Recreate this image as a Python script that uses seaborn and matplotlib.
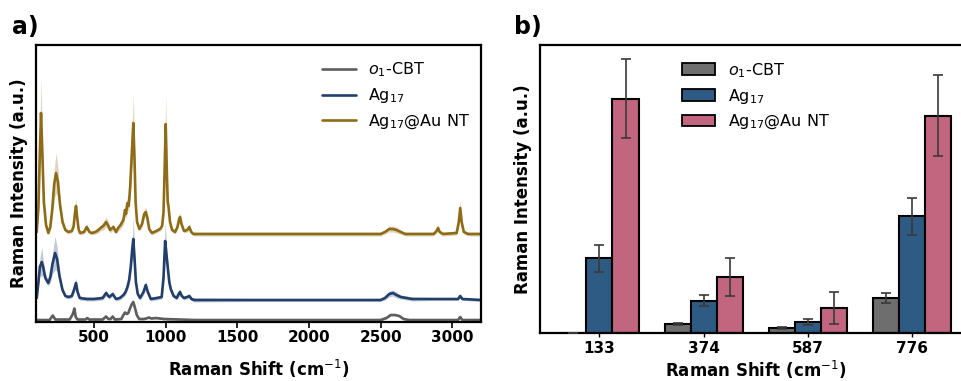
import numpy as np
import pandas as pd
import matplotlib
matplotlib.use("Agg")
import matplotlib.pyplot as plt
from matplotlib.patches import Patch
from matplotlib.lines import Line2D
import seaborn as sns

# ---------------- Panel a data ----------------
gold_x = [100, 112, 122, 130, 138, 150, 165, 181, 195, 210, 222, 235, 248, 262, 280, 300, 321,
          345, 358, 366, 374, 382, 392, 402, 430, 449, 468, 484, 510, 530, 545, 565, 584, 600,
          612, 635, 653, 668, 685, 705, 716, 723, 733, 742, 752, 764, 774, 782, 790, 800, 816,
          835, 850, 861, 872, 885, 903, 935, 960, 975, 985, 992, 1000, 1008, 1014, 1020, 1030,
          1045, 1065, 1082, 1092, 1100, 1110, 1128, 1150, 1165, 1178, 1193, 1400, 1800, 2200,
          2500, 2530, 2560, 2585, 2610, 2640, 2670, 2800, 2870, 2890, 2900, 2912, 2935, 3030,
          3045, 3055, 3065, 3080, 3110, 3200]
gold_y = [90, 115, 170, 209, 175, 120, 97, 89, 95, 115, 138, 149, 140, 118, 100, 92, 90,
          91, 96, 108, 116, 105, 93, 89, 90, 95, 90, 89, 90, 92, 94, 96, 100, 96,
          92, 95, 90, 94, 97, 102, 112, 108, 119, 116, 135, 170, 199, 165, 120, 100, 93,
          98, 108, 110, 104, 93, 89, 91, 93, 96, 110, 150, 198, 150, 120, 115, 100,
          92, 90, 95, 102, 105, 98, 91, 92, 95, 90, 88, 88, 88, 88,
          88, 90, 93, 93, 92, 90, 88, 88, 88, 91, 94, 90, 88, 89,
          100, 114, 100, 90, 88, 88]
gold_sd = [2, 8, 20, 36, 15, 6, 3, 2, 3, 8, 15, 20, 15, 8, 4, 2, 2,
           2, 3, 5, 8, 4, 2, 2, 2, 3, 2, 2, 2, 3, 3, 4, 5, 4,
           3, 3, 2, 3, 4, 5, 6, 5, 7, 6, 10, 15, 30, 12, 6, 3, 2,
           3, 4, 5, 4, 2, 2, 2, 2, 3, 6, 15, 30, 12, 8, 6, 4,
           2, 2, 3, 4, 4, 3, 2, 2, 3, 2, 2, 2, 2, 2,
           2, 2, 3, 3, 3, 2, 2, 2, 2, 2, 3, 2, 2, 2,
           4, 8, 4, 2, 2, 2]

blue_x = [100, 112, 122, 135, 145, 160, 181, 195, 210, 228, 242, 260, 280, 300, 321, 345, 360,
          374, 385, 400, 450, 500, 560, 584, 600, 607, 630, 653, 680, 705, 720, 733, 745, 756,
          766, 774, 782, 792, 805, 821, 845, 861, 875, 896, 940, 972, 985, 996, 1005, 1014,
          1025, 1035, 1055, 1077, 1090, 1100, 1112, 1128, 1150, 1165, 1180, 1200, 1600, 2000,
          2500, 2530, 2560, 2585, 2610, 2640, 2680, 2720, 2850, 3040, 3055, 3070, 3200]
blue_y = [24, 40, 55, 60, 55, 44, 39, 45, 58, 69, 63, 45, 32, 26, 25, 26, 32,
          39, 30, 24, 23, 23, 24, 29, 26, 25, 28, 23, 24, 27, 30, 35, 42, 55,
          72, 83, 65, 40, 28, 24, 30, 37, 30, 23, 24, 25, 45, 81, 68, 55,
          40, 33, 26, 24, 28, 30, 26, 24, 25, 26, 23, 22, 22, 22,
          22, 24, 28, 29, 27, 25, 24, 23, 23, 23, 26, 23, 22]
blue_sd = [2, 5, 8, 15, 8, 4, 3, 5, 10, 17, 12, 5, 3, 2, 2, 2, 3,
           5, 3, 2, 2, 2, 2, 3, 2, 2, 2, 2, 2, 2, 3, 3, 4, 6,
           10, 22, 8, 4, 2, 2, 3, 4, 3, 2, 2, 2, 8, 20, 10, 6,
           4, 3, 2, 2, 3, 3, 2, 2, 2, 2, 2, 2, 1.5, 1.5,
           1.5, 2, 3, 3, 3, 2, 2, 2, 1.5, 1.5, 2, 1.5, 1.5]

gray_x = [100, 190, 212, 230, 330, 352, 363, 372, 385, 440, 453, 466, 560, 584, 600, 615, 630,
          645, 690, 705, 716, 728, 739, 752, 764, 774, 784, 798, 815, 850, 884, 900, 930, 960,
          990, 1100, 1200, 2500, 2540, 2570, 2600, 2630, 2660, 2700, 3040, 3055, 3070, 3200]
gray_y = [2, 2, 6.5, 2.5, 2.5, 8, 13.5, 5, 2.5, 2.5, 4, 2.5, 2.5, 5.5, 3, 3, 5.5,
          2.5, 3, 7, 9.5, 8, 9, 14, 18, 20, 15, 7, 3, 3, 4.5, 3.5, 4, 3.5,
          3, 2.5, 2, 2, 4, 7, 7, 6, 3, 2, 2, 5, 2, 2]
gray_sd = [1] * len(gray_x)

# ---------------- Panel b data ----------------
peaks = ["133", "374", "587", "776"]
samples = ["$o_1$-CBT", "Ag$_{17}$", "Ag$_{17}$@Au NT"]
bar_gray = [0, 9, 5, 35]
bar_blue = [74.7, 32.3, 11.3, 116.7]
bar_pink = [234.3, 56, 25.3, 217.3]
err_gray = [0, 0.6, 0.6, 4.8]
err_blue = [13.8, 5.7, 3.0, 18.8]
err_pink = [39.5, 18.7, 16.0, 40.7]

line_colors = ["#5e5e5e", "#223f6c", "#8e6b16"]
bar_colors = ["#6e6e6e", "#2e5b84", "#c2657f"]

sns.set_theme(style="white")
plt.rcParams["font.family"] = ["DejaVu Sans"]
plt.rcParams["mathtext.fontset"] = "dejavusans"
plt.rcParams["text.color"] = "black"
plt.rcParams["axes.labelcolor"] = "black"
plt.rcParams["xtick.color"] = "black"
plt.rcParams["ytick.color"] = "black"

fig = plt.figure(figsize=(9.62, 3.81), dpi=100)
axa = fig.add_axes([36 / 962, (381 - 322) / 381, 445 / 962, 277 / 381])
axb = fig.add_axes([540 / 962, (381 - 333) / 381, 431.8 / 962, 288 / 381])

# ---- panel a ----
spectra = [(gray_x, gray_y, gray_sd), (blue_x, blue_y, blue_sd), (gold_x, gold_y, gold_sd)]
for (sx, sy, ssd), lab, col in zip(spectra, samples, line_colors):
    df = pd.DataFrame({"shift": sx, "intensity": sy})
    sns.lineplot(data=df, x="shift", y="intensity", ax=axa, color=col, lw=1.9, label=lab)
    sy_a, sd_a = np.array(sy, float), np.array(ssd, float)
    axa.fill_between(sx, sy_a - sd_a, sy_a + sd_a, color=col, alpha=0.28, lw=0)

axa.set_xlim(95, 3200)
axa.set_ylim(0, 277)
axa.set_yticks([])
axa.set_xticks([500, 1000, 1500, 2000, 2500, 3000])
axa.tick_params(axis="x", direction="out", length=4, width=1.2, color="black",
                labelsize=11, pad=2, bottom=True, labelcolor="black")
for t in axa.get_xticklabels():
    t.set_fontweight("bold")
axa.set_xlabel("Raman Shift (cm$^{-1}$)", fontsize=12, fontweight="bold", labelpad=9)
axa.set_ylabel("Raman Intensity (a.u.)", fontsize=12, fontweight="bold", labelpad=6)
for s in axa.spines.values():
    s.set_color("black")
    s.set_linewidth(1.6)
ha = [Line2D([0], [0], color=c, lw=1.9) for c in line_colors]
axa.legend(ha, samples, loc="upper left", bbox_to_anchor=(0.643, 0.945), frameon=False,
           fontsize=11.5, handlelength=2.1, borderpad=0, borderaxespad=0, labelspacing=0.45,
           handletextpad=0.8)
fig.text(12 / 962, 1 - 27 / 381, "a)", fontsize=17, fontweight="bold", va="center", ha="left")

# ---- panel b ----
rows = []
for i, p in enumerate(peaks):
    for s, vals in zip(samples, [bar_gray, bar_blue, bar_pink]):
        rows.append({"peak": p, "sample": s, "value": vals[i]})
dfb = pd.DataFrame(rows)
sns.barplot(data=dfb, x="peak", y="value", hue="sample", order=peaks, hue_order=samples,
            palette=dict(zip(samples, bar_colors)), width=0.75, edgecolor="black",
            linewidth=1.5, saturation=1, ax=axb, legend=False, errorbar=None)
for cont, errs in zip(axb.containers, [err_gray, err_blue, err_pink]):
    xs = [b.get_x() + b.get_width() / 2 for b in cont]
    ys = [b.get_height() for b in cont]
    axb.errorbar(xs, ys, yerr=errs, fmt="none", ecolor="#3a3a3a", elinewidth=1.2,
                 capsize=3.6, capthick=1.2, zorder=5)
axb.set_xlim(-0.57, 3.57)
axb.set_ylim(0, 288)
axb.set_yticks([])
axb.tick_params(axis="x", direction="out", length=3, width=1.0, color="black",
                labelsize=11, pad=3, bottom=True, labelcolor="black")
for t in axb.get_xticklabels():
    t.set_fontweight("bold")
axb.set_xlabel("Raman Shift (cm$^{-1}$)", fontsize=12, fontweight="bold", labelpad=2)
axb.set_ylabel("Raman Intensity (a.u.)", fontsize=12, fontweight="bold", labelpad=6)
for s in axb.spines.values():
    s.set_color("black")
    s.set_linewidth(1.6)
hb = [Patch(facecolor=c, edgecolor="black", lw=1.3) for c in bar_colors]
axb.legend(hb, samples, loc="upper left", bbox_to_anchor=(0.328, 0.945), frameon=False,
           fontsize=11.5, handlelength=2.1, handleheight=0.75, borderpad=0, borderaxespad=0,
           labelspacing=0.45, handletextpad=0.8)
fig.text(514 / 962, 1 - 27 / 381, "b)", fontsize=17, fontweight="bold", va="center", ha="left")

fig.savefig("out.png", dpi=100)
